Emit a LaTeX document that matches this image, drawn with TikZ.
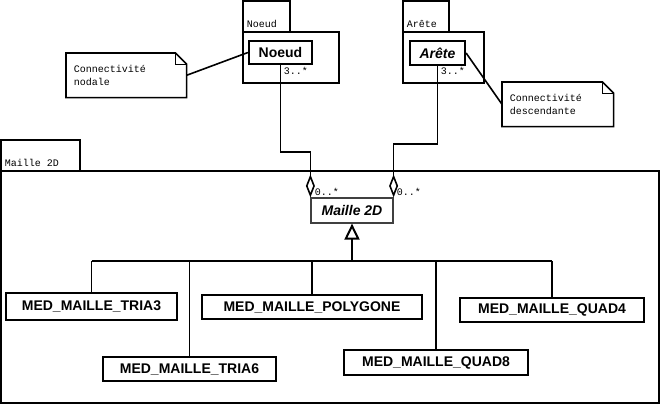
\documentclass[tikz,border=0pt]{standalone}
\usepackage{fontspec}
\setmainfont{Liberation Sans}
\newfontfamily\pixfont{Liberation Mono}
\usetikzlibrary{arrows.meta}

\begin{document}
\begin{tikzpicture}[x=1pt,y=-1pt,line width=1.6pt,
    cls/.style={draw,inner sep=0pt,font=\fontsize{14}{14}\selectfont\bfseries},
    small/.style={inner sep=0pt,font=\pixfont\fontsize{10}{13}\selectfont},
    note/.style={small,minimum height=43,align=left,anchor=north west,inner xsep=7pt}]
    \useasboundingbox (0,0) rectangle (660,405);
    \draw (243,1) rectangle (290,32) (243,32) rectangle (339,83);
    \draw (403,1) rectangle (449,32) (403,32) rectangle (484,83);
    \draw (1,140) rectangle (80,171) (1,171) rectangle (659,403);
    \node[small,anchor=base west] (tabnoeud) at (246,27) {Noeud};
    \node[small,anchor=base west] (tabarete) at (406,27) {Arête};
    \node[small,anchor=base west] (tabmaille) at (4,166) {Maille 2D};

    \node[cls,line width=2.2pt,minimum width=63,minimum height=23] (noeud) at (280.5,52.5) {Noeud};
    \node[cls,line width=2.2pt,minimum width=55,minimum height=24] (arete) at (437.5,53) {\itshape Arête};
    \node[cls,line width=1.2pt,draw=black!75,minimum width=82,minimum height=25] (maille) at (352,210.5) {\itshape Maille 2D};

    \node[cls,minimum width=171,minimum height=27] (tria3) at (91.5,306.5) {MED\_MAILLE\_TRIA3};
    \node[cls,minimum width=173,minimum height=24] (tria6) at (189.5,369) {MED\_MAILLE\_TRIA6};
    \node[cls,minimum width=220,minimum height=24] (polygone) at (312,307) {MED\_MAILLE\_POLYGONE};
    \node[cls,minimum width=184,minimum height=25] (quad8) at (436,362.5) {MED\_MAILLE\_QUAD8};
    \node[cls,minimum width=184,minimum height=24] (quad4) at (552,310) {MED\_MAILLE\_QUAD4};

    \node[note,text width=105] (nodale) at (66,53) {Connectivité\\nodale};
    \node[note,text width=96] (desc) at (502,82) {Connectivité\\descendante};
    \foreach \n in {nodale,desc}{
    \draw (\n.south west) |- ([xshift=-11pt]\n.north east) -- ([yshift=-11pt]\n.north east) -- (\n.south east) -- cycle;
    \draw[line width=0.8pt] ([xshift=-11pt]\n.north east) |- ([yshift=-11pt]\n.north east);}
    \draw (nodale.east) -- (noeud.west);
    \draw (arete.east) -- (desc.west);

    \draw[{Diamond[open,length=23pt,width=9pt]}-] (maille.north west) -- (maille.north west |- 0,152) -| (noeud.south);
    \draw[{Diamond[open,length=23pt,width=9pt]}-] (maille.north east) -- (maille.north east |- 0,144) -| (arete.south);
    \node[small,anchor=base west] (m1) at (283,74) {3..*};
    \node[small,anchor=base west] (m2) at (440,74) {3..*};
    \node[small,anchor=base west] (m3) at (314,195) {0..*};
    \node[small,anchor=base west] (m4) at (396,195) {0..*};

    \draw[-{Triangle[open,length=16pt,width=15pt]},line width=2pt] (maille.south |- 0,261) -- (maille.south);
    \draw (tria3.north |- 0,261) -- (quad4.north |- 0,261);
    \foreach \c in {tria3,tria6,polygone,quad8,quad4}
    \draw (\c.north) -- (\c.north |- 0,261);
\end{tikzpicture}
\end{document}
